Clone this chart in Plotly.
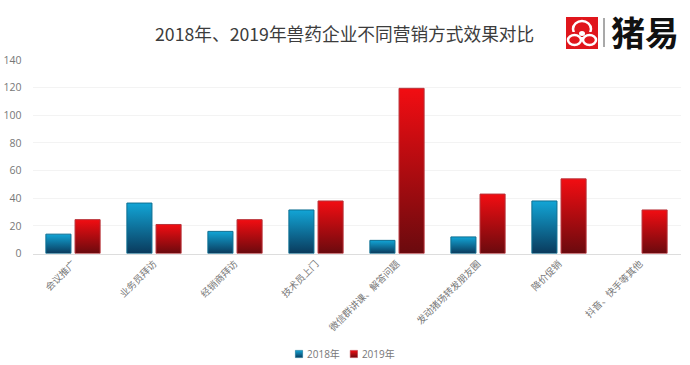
import plotly.graph_objects as go

categories = ["会议推广", "业务员拜访", "经销商拜访", "技术员上门", "微信群讲课、解答问题",
              "发动猪场转发朋友圈", "降价促销", "抖音、快手等其他"]
values_2018 = [14, 36.5, 16, 31.5, 9.5, 12, 38, None]
values_2019 = [24.5, 21, 24.5, 38, 119.5, 43, 54, 31.5]
y_ticks = [0, 20, 40, 60, 80, 100, 120, 140]
title_text = "2018年、2019年兽药企业不同营销方式效果对比"
logo_text = "猪易"

W, H = 690, 365
CJK = "'Noto Sans CJK SC', 'Noto Sans', sans-serif"
LAT = "'Open Sans', 'Noto Sans CJK SC', sans-serif"
fx = lambda p: p / W
fy = lambda p: 1 - p / H

fig = go.Figure()
fig.add_bar(name="2018年", x=categories, y=values_2018, marker=dict(color="#0a5f8c", line=dict(color="#0d6f92", width=1)))
fig.add_bar(name="2019年", x=categories, y=values_2019, marker=dict(color="#b00a10", line=dict(color="#b8333a", width=1)))


def rect(x0, y0, x1, y1, color):
    return dict(type="rect", xref="paper", yref="paper", x0=fx(x0), x1=fx(x1), y0=fy(y0), y1=fy(y1),
                fillcolor=color, line=dict(width=0), layer="above")


def ring(x0, y0, x1, y1, fill, line, width):
    return dict(type="circle", xref="paper", yref="paper", x0=fx(x0), x1=fx(x1), y0=fy(y0), y1=fy(y1),
                fillcolor=fill, line=dict(color=line, width=width), layer="above")


RED, WHITE = "#e0161c", "#ffffff"
logo_shapes = [
    rect(566, 17, 598, 49, RED),
    ring(573, 21, 591, 37, RED, WHITE, 2.5),
    rect(570, 32, 594, 37, RED),
    ring(568, 35, 581, 45, RED, WHITE, 2.5),
    ring(583, 35, 596, 45, RED, WHITE, 2.5),
    ring(579, 31, 585, 36, WHITE, WHITE, 0),
    rect(603.5, 18, 604.5, 47, "#555555"),
]

fig.update_layout(
    width=W, height=H, margin=dict(l=0, r=0, t=0, b=0),
    paper_bgcolor="white", plot_bgcolor="white", showlegend=True,
    barmode="group", bargap=0.28, bargroupgap=0.14,
    font=dict(family=CJK, color="#777777"),
    xaxis=dict(domain=[fx(32.5), fx(680.5)], type="category", tickangle=-45, showgrid=False, automargin=False,
               tickfont=dict(size=9.5, color="#777777", family=CJK), ticks="",
               showline=True, linecolor="#dddddd", linewidth=1, fixedrange=True),
    yaxis=dict(domain=[fy(253.5), fy(60)], range=[0, 140], tickvals=y_ticks, automargin=False,
               tickfont=dict(size=10.5, color="#777777", family=LAT), gridcolor="#f3f3f3",
               zeroline=False, ticks="", ticklabelstandoff=10, fixedrange=True),
    legend=dict(orientation="h", x=0.5, xanchor="center", y=0.5, yanchor="middle",
                font=dict(size=10, family=LAT, color="#777777"), itemwidth=30,
                bgcolor="rgba(0,0,0,0)",
                traceorder="normal", itemclick=False, itemdoubleclick=False),
    shapes=logo_shapes,
    annotations=[
        dict(text=title_text, xref="paper", yref="paper", x=fx(344), y=fy(33), xanchor="center", yanchor="middle",
             showarrow=False, font=dict(size=17.7, color="#3c3c3c", family=CJK)),
        dict(text="<b>" + logo_text + "</b>", xref="paper", yref="paper", x=fx(644.5), y=fy(32), xanchor="center",
             yanchor="middle", showarrow=False, font=dict(size=34, color="#111111", family=CJK)),
    ],
)

post = """
document.body.style.margin='0';
var gd = document.querySelector('.plotly-graph-div');
var svg = gd.querySelector('svg.main-svg');
var ns = 'http://www.w3.org/2000/svg';
var defs = svg.querySelector('defs');
function grad(id, stops){
  var g = document.createElementNS(ns,'linearGradient');
  g.setAttribute('id',id); g.setAttribute('x1','0'); g.setAttribute('y1','0'); g.setAttribute('x2','0'); g.setAttribute('y2','1');
  stops.forEach(function(s){var e=document.createElementNS(ns,'stop'); e.setAttribute('offset',s[0]); e.setAttribute('stop-color',s[1]); g.appendChild(e);});
  defs.appendChild(g);
}
grad('g18',[[0,'#12a5d6'],[1,'#0a3a5c']]);
grad('g19',[[0,'#f20d12'],[1,'#6a0a0e']]);
gd.querySelectorAll('.barlayer .trace').forEach(function(t,i){
  t.querySelectorAll('path').forEach(function(p){p.style.fill='url(#'+(i==0?'g18':'g19')+')';});
});
gd.querySelectorAll('.legend .traces').forEach(function(t,i){
  t.querySelectorAll('.legendpoints path').forEach(function(p){
    p.style.fill='url(#'+(i==0?'g18':'g19')+')';
    p.setAttribute('transform', p.getAttribute('transform')+' translate(12,0) scale(0.6)');
  });
  if(i==1){ t.setAttribute('transform', t.getAttribute('transform')+' translate(-23,0)'); }
});
var lg = gd.querySelector('.legend');
var r = lg.getBoundingClientRect();
lg.setAttribute('transform', lg.getAttribute('transform')+' translate(0,'+(354-(r.top+r.height/2))+')');
"""
fig.write_html("out.html", post_script=post, config={"displayModeBar": False})
